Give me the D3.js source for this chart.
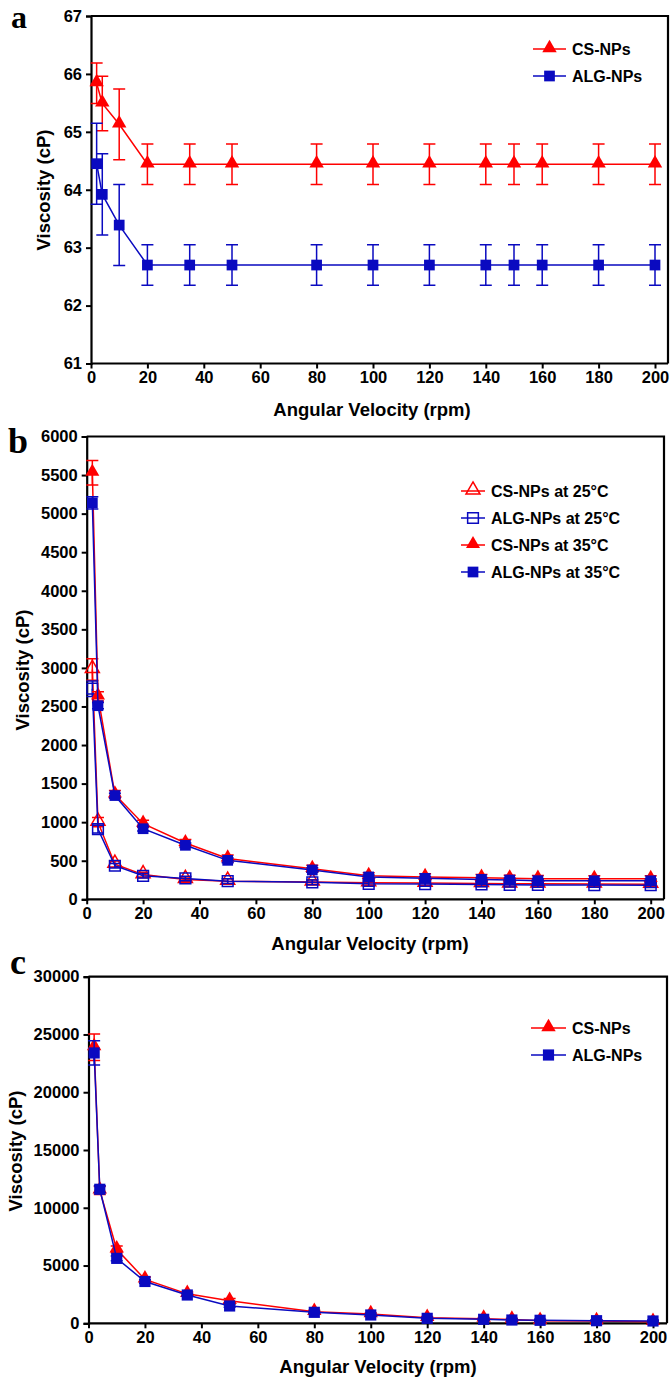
<!DOCTYPE html>
<html><head><meta charset="utf-8">
<script src="https://cdn.jsdelivr.net/npm/d3@7"></script>
<style>
html,body{margin:0;padding:0;background:#fff;}
svg{display:block;}
text{font-family:"Liberation Sans",Arial,sans-serif;font-weight:bold;fill:#000;}
text.letter{font-family:"Liberation Serif","Times New Roman",serif;}
</style></head>
<body>
<svg id="chart" width="670" height="1380"></svg>
<script>
// ---------- data ----------
const rpm = [2, 4, 10, 20, 35, 50, 80, 100, 120, 140, 150, 160, 180, 200];
const xTicks = [0, 20, 40, 60, 80, 100, 120, 140, 160, 180, 200];

// panel a
const aCS     = [65.84, 65.49, 65.13, 64.44, 64.44, 64.44, 64.44, 64.44, 64.44, 64.44, 64.44, 64.44, 64.44, 64.44];
const aCSErr  = [0.35, 0.47, 0.61, 0.35, 0.35, 0.35, 0.35, 0.35, 0.35, 0.35, 0.35, 0.35, 0.35, 0.35];
const aALG    = [64.45, 63.92, 63.39, 62.70, 62.70, 62.70, 62.70, 62.70, 62.70, 62.70, 62.70, 62.70, 62.70, 62.70];
const aALGErr = [0.70, 0.70, 0.70, 0.35, 0.35, 0.35, 0.35, 0.35, 0.35, 0.35, 0.35, 0.35, 0.35, 0.35];
const aYTicks = [61, 62, 63, 64, 65, 66, 67];

// panel b
const bCS25     = [2980, 1000, 455, 320, 258, 235, 225, 215, 210, 205, 200, 200, 198, 195];
const bCS25Err  = [140, 60, 40, 30, 30, 30, 30, 30, 30, 30, 30, 30, 30, 30];
const bALG25    = [2730, 910, 435, 305, 270, 235, 220, 200, 198, 192, 188, 186, 185, 182];
const bALG25Err = [100, 50, 30, 30, 30, 30, 30, 30, 30, 30, 30, 30, 30, 30];
const bCS35     = [5530, 2630, 1360, 980, 730, 530, 395, 305, 290, 280, 272, 268, 266, 265];
const bCS35Err  = [160, 60, 50, 45, 45, 45, 45, 40, 40, 40, 40, 40, 40, 40];
const bALG35    = [5140, 2510, 1345, 915, 700, 505, 380, 290, 272, 258, 250, 242, 240, 240];
const bALG35Err = [80, 40, 30, 30, 30, 30, 30, 25, 25, 25, 25, 25, 25, 25];
const bYTicks = [0, 500, 1000, 1500, 2000, 2500, 3000, 3500, 4000, 4500, 5000, 5500, 6000];

// panel c
const cCS     = [23900, 11500, 6400, 3800, 2550, 1950, 1000, 800, 480, 400, 330, 220, 200, 130];
const cCSErr  = [1150, 350, 300, 200, 150, 200, 120, 120, 100, 100, 100, 100, 100, 100];
const cALG    = [23400, 11600, 5620, 3620, 2450, 1500, 950, 720, 430, 345, 285, 260, 225, 200];
const cALGErr = [1050, 300, 200, 150, 100, 100, 80, 80, 80, 80, 80, 80, 80, 80];
const cYTicks = [0, 5000, 10000, 15000, 20000, 25000, 30000];

const RED = "#ff0000";
const BLUE = "#0a0ac0";

const svg = d3.select("#chart");

function drawPanel(p) {
  const g = svg.append("g");
  const x = d3.scaleLinear().domain([0, 200]).range([p.x0, p.x1]);
  const y = d3.scaleLinear().domain(p.yDomain).range([p.yBottom, p.yTop]);

  // frame (top & right)
  g.append("path")
    .attr("d", `M${p.x0},${p.yTop}H${p.xRight}V${p.yBottom}`)
    .attr("fill", "none").attr("stroke", "#000").attr("stroke-width", 2.2);

  // axes
  const xAxis = d3.axisBottom(x).tickValues(xTicks).tickSize(5).tickPadding(3).tickFormat(d3.format("d"));
  const gx = g.append("g").attr("transform", `translate(0,${p.yBottom})`).call(xAxis);
  gx.select(".domain").attr("d", `M${p.x0},0H${p.xRight}`).attr("stroke-width", 2.2);
  gx.selectAll(".tick line").attr("stroke-width", 2);
  gx.selectAll(".tick text").attr("font-size", 16.5).attr("dy", "0.71em");

  const yAxis = d3.axisLeft(y).tickValues(p.yTicks).tickSize(5).tickPadding(4).tickFormat(d3.format("d"));
  const gy = g.append("g").attr("transform", `translate(${p.x0},0)`).call(yAxis);
  gy.select(".domain").attr("stroke-width", 2.2);
  gy.selectAll(".tick line").attr("stroke-width", 2);
  gy.selectAll(".tick text").attr("font-size", 16.5);

  // axis titles
  g.append("text").attr("x", p.xTitleX).attr("y", p.xTitleY).attr("text-anchor", "middle")
    .attr("font-size", 18.5).text("Angular Velocity (rpm)");
  g.append("text").attr("transform", `translate(${p.yTitleX},${p.yTitleY}) rotate(-90)`)
    .attr("text-anchor", "middle").attr("font-size", 18.5).text("Viscosity (cP)");

  // panel letter
  g.append("text").attr("class", "letter").attr("x", p.letterX).attr("y", p.letterY)
    .attr("font-size", p.letterSize).text(p.letter);

  // series
  const line = d3.line().x((d, i) => x(rpm[i])).y(d => y(d));
  p.series.forEach(s => {
    const sg = g.append("g");
    sg.append("path").datum(s.values).attr("d", line).attr("fill", "none")
      .attr("stroke", s.color).attr("stroke-width", 1.5);
    const cap = 6;
    s.values.forEach((v, i) => {
      const cx = x(rpm[i]);
      const yt = y(v + s.err[i]), yb = y(v - s.err[i]);
      sg.append("path")
        .attr("d", `M${cx},${yt}V${yb}M${cx - cap},${yt}H${cx + cap}M${cx - cap},${yb}H${cx + cap}`)
        .attr("stroke", s.color).attr("stroke-width", 1.5).attr("fill", "none");
    });
    const sym = d3.symbol().type(s.shape === "tri" ? d3.symbolTriangle : d3.symbolSquare)
      .size(s.shape === "tri" ? p.triSize : p.sqSize);
    sg.selectAll("path.m").data(s.values).enter().append("path").attr("class", "m")
      .attr("d", sym)
      .attr("transform", (d, i) => `translate(${x(rpm[i])},${y(d) + (s.shape === "tri" ? -1 : 0)})`)
      .attr("fill", s.open ? "none" : s.color)
      .attr("stroke", s.color).attr("stroke-width", s.open ? 1.5 : 0);
  });

  // legend
  p.series.slice().sort((a, b) => a.legendOrder - b.legendOrder).forEach((s, k) => {
    const ly = p.legY + k * p.legStep;
    g.append("line").attr("x1", p.legX).attr("x2", p.legX + p.legLen).attr("y1", ly).attr("y2", ly)
      .attr("stroke", s.color).attr("stroke-width", 1.5);
    const sym = d3.symbol().type(s.shape === "tri" ? d3.symbolTriangle : d3.symbolSquare)
      .size(s.shape === "tri" ? p.triSize : p.sqSize);
    g.append("path").attr("d", sym)
      .attr("transform", `translate(${p.legX + p.legLen / 2},${ly + (s.shape === "tri" ? -1 : 0)})`)
      .attr("fill", s.open ? "none" : s.color)
      .attr("stroke", s.color).attr("stroke-width", s.open ? 1.5 : 0);
    g.append("text").attr("x", p.legX + p.legLen + 6).attr("y", ly).attr("dy", "0.36em")
      .attr("font-size", 16).text(s.name);
  });
}

drawPanel({
  letter: "a", letterX: 11, letterY: 28, letterSize: 32,
  x0: 91, x1: 655, xRight: 668, yTop: 16, yBottom: 363.5,
  yDomain: [61, 67], yTicks: aYTicks,
  xTitleX: 372, xTitleY: 416, yTitleX: 50, yTitleY: 190,
  triSize: 90, sqSize: 115,
  legX: 533, legLen: 33, legY: 49, legStep: 27,
  series: [
    { name: "CS-NPs", values: aCS, err: aCSErr, color: RED, shape: "tri", open: false, legendOrder: 0 },
    { name: "ALG-NPs", values: aALG, err: aALGErr, color: BLUE, shape: "sq", open: false, legendOrder: 1 }
  ]
});

drawPanel({
  letter: "b", letterX: 8, letterY: 453, letterSize: 36,
  x0: 86.7, x1: 650.7, xRight: 664, yTop: 436.5, yBottom: 899.3,
  yDomain: [0, 6000], yTicks: bYTicks,
  xTitleX: 370, xTitleY: 950, yTitleX: 29, yTitleY: 670,
  triSize: 85, sqSize: 115,
  legX: 461, legLen: 24, legY: 491, legStep: 27,
  series: [
    { name: "CS-NPs at 25°C", values: bCS25, err: bCS25Err, color: RED, shape: "tri", open: true, legendOrder: 0 },
    { name: "ALG-NPs at 25°C", values: bALG25, err: bALG25Err, color: BLUE, shape: "sq", open: true, legendOrder: 1 },
    { name: "CS-NPs at 35°C", values: bCS35, err: bCS35Err, color: RED, shape: "tri", open: false, legendOrder: 2 },
    { name: "ALG-NPs at 35°C", values: bALG35, err: bALG35Err, color: BLUE, shape: "sq", open: false, legendOrder: 3 }
  ]
});

drawPanel({
  letter: "c", letterX: 10, letterY: 974, letterSize: 36,
  x0: 88.5, x1: 653, xRight: 667, yTop: 976.7, yBottom: 1323.3,
  yDomain: [0, 30000], yTicks: cYTicks,
  xTitleX: 378, xTitleY: 1373, yTitleX: 22, yTitleY: 1151,
  triSize: 90, sqSize: 125,
  legX: 531, legLen: 35, legY: 1028, legStep: 27,
  series: [
    { name: "CS-NPs", values: cCS, err: cCSErr, color: RED, shape: "tri", open: false, legendOrder: 0 },
    { name: "ALG-NPs", values: cALG, err: cALGErr, color: BLUE, shape: "sq", open: false, legendOrder: 1 }
  ]
});
</script>
</body></html>
